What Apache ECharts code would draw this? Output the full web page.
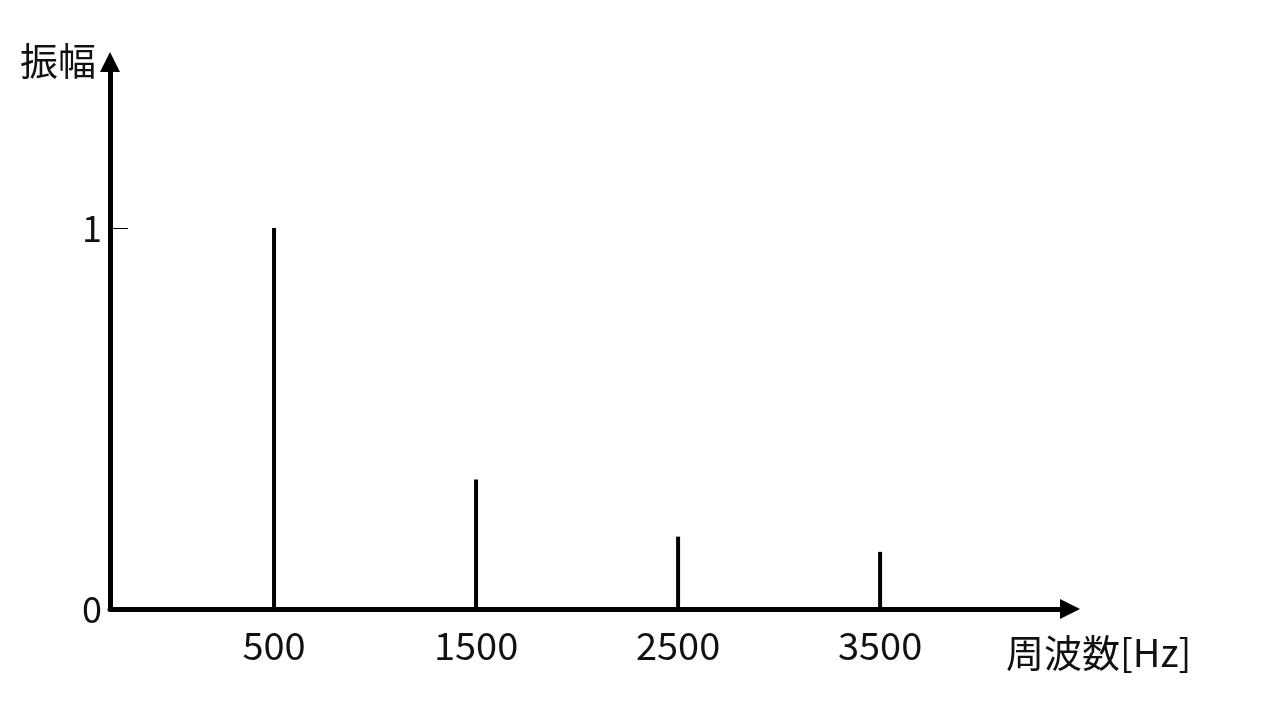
<!DOCTYPE html>
<html><head><meta charset="utf-8">
<script src="https://cdn.jsdelivr.net/npm/echarts@6/dist/echarts.min.js"></script>
<style>html,body{margin:0;background:#fff}#c{width:1280px;height:720px}</style>
</head><body><div id="c"></div>
<script>
// spectrum lines
var freqs = [500, 1500, 2500, 3500];
var amps = [1.0, 0.34, 0.19, 0.15];
var xTicks = [500, 1500, 2500, 3500];
var yTicks = [0, 1];
var font = '"Noto Sans CJK JP", "Noto Sans", sans-serif';

var chart = echarts.init(document.getElementById('c'));
chart.setOption({
  animation: false,
  grid: { left: 110, right: 210, top: 62, bottom: 111 },
  xAxis: {
    type: 'value', min: -312, max: 4440,
    splitLine: { show: false },
    axisLine: { onZero: false, lineStyle: { color: '#000', width: 5 }, symbol: ['none', 'triangle'], symbolSize: [20, 20] },
    axisTick: { show: false },
    axisLabel: { customValues: xTicks, formatter: function (v) { return String(v); },
      color: '#111', fontSize: 38, fontFamily: font, margin: 18 }
  },
  yAxis: {
    type: 'value', min: 0, max: 1.436,
    splitLine: { show: false },
    axisLine: { onZero: false, lineStyle: { color: '#000', width: 5 }, symbol: ['none', 'triangle'], symbolSize: [20, 20] },
    axisTick: { customValues: [1], inside: true, length: 18, lineStyle: { color: '#000', width: 1 } },
    axisLabel: { customValues: yTicks, color: '#111', fontSize: 36, fontFamily: font, margin: 8 }
  },
  series: [{
    type: 'bar', barWidth: 4,
    itemStyle: { color: '#000' },
    data: freqs.map(function (f, i) { return [f, amps[i]]; })
  }],
  graphic: [
    { type: 'text', left: 20, top: 42, style: { text: '振幅', font: '38px ' + font, fill: '#111' } },
    { type: 'text', left: 1006, top: 634, style: { text: '周波数[Hz]', font: '38px ' + font, fill: '#111' } }
  ]
});
</script></body></html>
